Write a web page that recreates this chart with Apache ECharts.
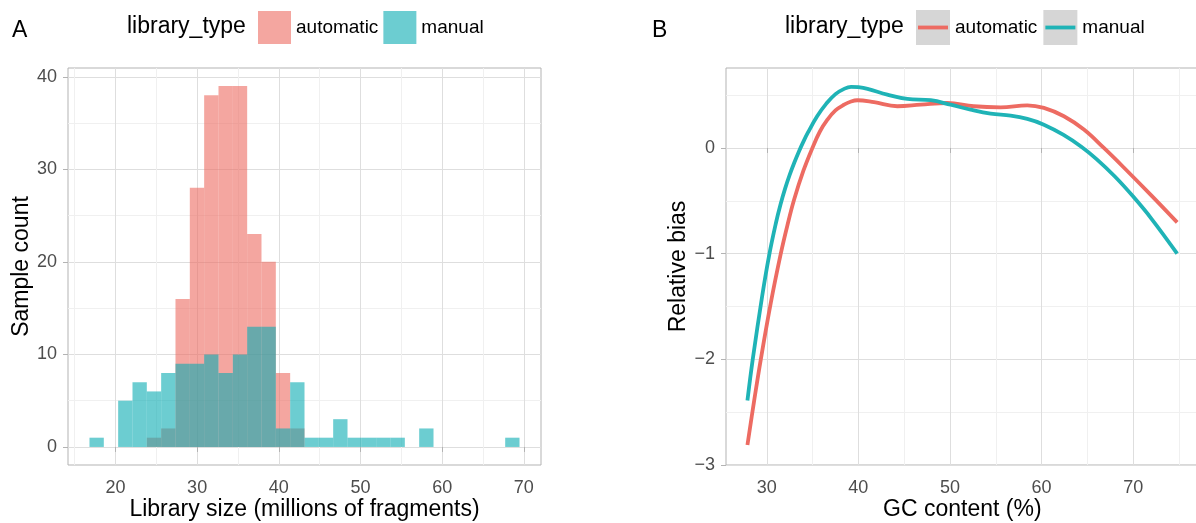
<!DOCTYPE html>
<html>
<head>
<meta charset="utf-8">
<title>Library size and GC bias</title>
<script src="https://cdn.jsdelivr.net/npm/echarts@6/dist/echarts.min.js"></script>
<style>
  html, body { margin: 0; padding: 0; background: #fff; }
  #chart { width: 1196px; height: 523px; }
</style>
</head>
<body>
<div id="chart"></div>
<script>
// ---- Panel A: histogram of library sizes (30 bins) ----
const binStart = 16.82;
const binWidth = 1.755;
const automaticCounts = [0, 0, 0, 0, 1, 2, 16, 28, 38, 39, 39, 23, 20, 8, 2,
                         0, 0, 0, 0, 0, 0, 0, 0, 0, 0, 0, 0, 0, 0, 0];
const manualCounts    = [1, 0, 5, 7, 6, 8, 9, 9, 10, 8, 10, 13, 13, 2, 7,
                         1, 1, 3, 1, 1, 1, 1, 0, 2, 0, 0, 0, 0, 0, 1];
const histXTicks = [20, 30, 40, 50, 60, 70];
const histXMinor = [15, 25, 35, 45, 55, 65];
const histYTicks = [0, 10, 20, 30, 40];
const histYMinor = [5, 15, 25, 35];

// ---- Panel B: smoothed GC bias curves ----
const gcAutomatic = [
  [27.89, -2.81], [28.6, -2.405], [29.35, -2.0], [30.44, -1.466], [31.53, -1.0],
  [32.25, -0.733], [32.98, -0.49], [34.0, -0.215], [34.98, 0.0], [35.8, 0.156],
  [36.62, 0.268], [37.5, 0.356], [38.44, 0.41], [39.2, 0.44], [39.89, 0.452],
  [41.71, 0.433], [44.25, 0.395], [46.8, 0.41], [49.7, 0.426], [52.6, 0.395],
  [55.53, 0.385], [58.44, 0.404], [60.25, 0.379], [62.44, 0.30], [64.62, 0.174],
  [66.8, 0.0], [69.0, -0.187], [72.0, -0.451], [74.8, -0.704]
];
const gcManual = [
  [27.89, -2.39], [28.47, -2.0], [29.5, -1.40], [30.25, -1.02], [31.0, -0.71],
  [31.5, -0.535], [32.0, -0.385], [32.5, -0.255], [33.0, -0.14], [33.5, -0.035],
  [34.0, 0.06], [34.5, 0.147], [35.5, 0.30], [36.5, 0.42], [37.5, 0.51],
  [38.5, 0.562], [39.2, 0.578], [40.0, 0.575], [41.0, 0.56], [43.16, 0.505],
  [45.35, 0.464], [47.89, 0.452], [50.07, 0.41], [52.25, 0.363], [54.44, 0.325],
  [56.62, 0.306], [58.44, 0.275], [60.25, 0.221], [62.4, 0.124], [64.3, 0.014],
  [66.0, -0.105], [68.0, -0.27], [70.0, -0.46], [72.0, -0.67], [74.8, -1.0]
];
const gcXTicks = [30, 40, 50, 60, 70];
const gcXMinor = [35, 45, 55, 65, 75];
const gcYTicks = [-3, -2, -1, 0];
const gcYMinor = [-2.5, -1.5, -0.5, 0.5];

const FONT = '"Liberation Sans", Arial, Helvetica, sans-serif';
const RED_FILL = 'rgba(237, 107, 97, 0.6)';
const TEAL_FILL = 'rgba(10, 172, 178, 0.6)';
const RED_LINE = '#ED6B62';
const TEAL_LINE = '#1FB3B6';

function histData(counts) {
  const out = [];
  counts.forEach((c, k) => {
    if (c > 0) out.push([binStart + k * binWidth, binStart + (k + 1) * binWidth, c]);
  });
  return out;
}

function renderBin(params, api) {
  const top = api.coord([api.value(0), api.value(2)]);
  const base = api.coord([api.value(1), 0]);
  return {
    type: 'rect',
    shape: { x: top[0], y: top[1], width: base[0] - top[0], height: base[1] - top[1] },
    style: { fill: api.visual('color') }
  };
}

function majorAxis(gridIndex, min, max, ticks, extra) {
  return Object.assign({
    gridIndex, type: 'value', min, max,
    axisLine: { show: false },
    axisTick: { show: true, length: 5, lineStyle: { color: '#b3b3b3', width: 1 }, customValues: ticks },
    axisLabel: { customValues: ticks, color: '#4d4d4d', fontSize: 18, fontFamily: FONT },
    splitLine: { show: true, lineStyle: { color: '#dedede', width: 1 } },
    nameLocation: 'middle',
    nameTextStyle: { fontSize: 23, color: '#000', fontFamily: FONT }
  }, extra);
}

function minorAxis(gridIndex, min, max, ticks) {
  return {
    gridIndex, type: 'value', min, max,
    axisLine: { show: false },
    axisTick: { show: false, customValues: ticks },
    axisLabel: { show: false, customValues: ticks },
    splitLine: { show: true, lineStyle: { color: '#f0f0f0', width: 1 } }
  };
}

const lineIcon = 'path://M0,0M34,35M2,15.6h30v3.8h-30z';
const panelGrid = {
  show: true, borderColor: '#b3b3b3', borderWidth: 1, backgroundColor: '#fff',
  outerBoundsMode: 'none', containLabel: false
};

const option = {
  animation: false,
  backgroundColor: '#fff',
  textStyle: { fontFamily: FONT },
  title: [
    { text: 'A', left: 12, top: 19, padding: 0, textStyle: { fontSize: 23, fontWeight: 'normal', color: '#000', fontFamily: FONT } },
    { text: 'library_type', left: 127, top: 15, padding: 0, textStyle: { fontSize: 23, fontWeight: 'normal', color: '#000', fontFamily: FONT } },
    { text: 'B', left: 652, top: 19, padding: 0, textStyle: { fontSize: 23, fontWeight: 'normal', color: '#000', fontFamily: FONT } },
    { text: 'library_type', left: 785, top: 15, padding: 0, textStyle: { fontSize: 23, fontWeight: 'normal', color: '#000', fontFamily: FONT } }
  ],
  legend: [
    {
      left: 258, top: 11, padding: 0, itemGap: 5, itemWidth: 33, itemHeight: 33, icon: 'rect',
      selectedMode: false,
      textStyle: { fontSize: 19, color: '#000', fontFamily: FONT },
      data: [
        { name: 'automatic', itemStyle: { color: RED_FILL } },
        { name: 'manual', itemStyle: { color: TEAL_FILL } }
      ]
    },
    {
      left: 916, top: 10, padding: 0, itemGap: 6, itemWidth: 34, itemHeight: 35, icon: 'rect',
      selectedMode: false,
      textStyle: { fontSize: 19, color: '#000', fontFamily: FONT },
      data: [
        { name: 'automatic', itemStyle: { color: '#d6d6d6' } },
        { name: 'manual', itemStyle: { color: '#d6d6d6' } }
      ]
    },
    {
      left: 916, top: 10, padding: 0, itemGap: 6, itemWidth: 34, itemHeight: 35, icon: lineIcon,
      selectedMode: false,
      textStyle: { fontSize: 19, color: 'rgba(0,0,0,0)', fontFamily: FONT },
      data: [
        { name: 'automatic', itemStyle: { color: RED_LINE } },
        { name: 'manual', itemStyle: { color: TEAL_LINE } }
      ]
    }
  ],
  grid: [
    Object.assign({ left: 68, top: 68, width: 473, height: 397 }, panelGrid),
    Object.assign({ left: 726, top: 68, width: 472.7, height: 397 }, panelGrid)
  ],
  xAxis: [
    majorAxis(0, 14.19, 72.1, histXTicks, {
      name: 'Library size (millions of fragments)', nameGap: 33, nameMoveOverlap: false,
      axisLabel: { customValues: histXTicks, color: '#4d4d4d', fontSize: 18, fontFamily: FONT, margin: 14 }
    }),
    minorAxis(0, 14.19, 72.1, histXMinor),
    majorAxis(1, 25.55, 77.15, gcXTicks, {
      name: 'GC content (%)', nameGap: 33, nameMoveOverlap: false,
      axisLabel: { customValues: gcXTicks, color: '#4d4d4d', fontSize: 18, fontFamily: FONT, margin: 14 }
    }),
    minorAxis(1, 25.55, 77.15, gcXMinor)
  ],
  yAxis: [
    majorAxis(0, -1.95, 40.95, histYTicks, {
      name: 'Sample count', nameGap: 27,
      axisLabel: { customValues: histYTicks, color: '#4d4d4d', fontSize: 18, fontFamily: FONT, margin: 11 }
    }),
    minorAxis(0, -1.95, 40.95, histYMinor),
    majorAxis(1, -3.0, 0.757, gcYTicks, {
      name: 'Relative bias', nameGap: 36,
      axisLabel: {
        customValues: gcYTicks, color: '#4d4d4d', fontSize: 18, fontFamily: FONT, margin: 11,
        formatter: v => String(v).replace('-', '\u2212')
      }
    }),
    minorAxis(1, -3.0, 0.757, gcYMinor)
  ],
  series: [
    {
      name: 'automatic', type: 'custom', xAxisIndex: 0, yAxisIndex: 0,
      color: RED_FILL, renderItem: renderBin, data: histData(automaticCounts),
      encode: { x: [0, 1], y: 2 }
    },
    {
      name: 'manual', type: 'custom', xAxisIndex: 0, yAxisIndex: 0,
      color: TEAL_FILL, renderItem: renderBin, data: histData(manualCounts),
      encode: { x: [0, 1], y: 2 }
    },
    {
      name: 'automatic', type: 'line', xAxisIndex: 2, yAxisIndex: 2,
      data: gcAutomatic, showSymbol: false, smooth: 0.4,
      color: RED_LINE, lineStyle: { width: 3.8, color: RED_LINE }
    },
    {
      name: 'manual', type: 'line', xAxisIndex: 2, yAxisIndex: 2,
      data: gcManual, showSymbol: false, smooth: 0.4,
      color: TEAL_LINE, lineStyle: { width: 3.8, color: TEAL_LINE }
    }
  ]
};

const chart = echarts.init(document.getElementById('chart'), null, { renderer: 'canvas' });
chart.setOption(option);
</script>
</body>
</html>
